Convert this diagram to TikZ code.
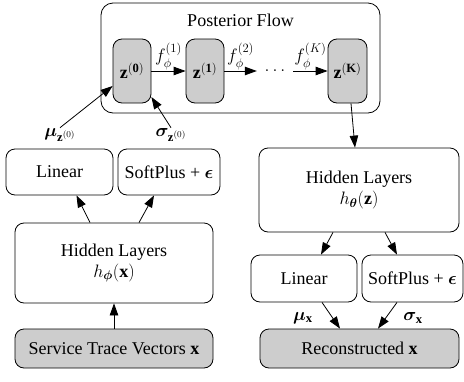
\documentclass[tikz,border=0pt]{standalone}
\usepackage{fix-cm}
\usepackage{amsmath}
\usepackage{bm}
\usepackage{fontspec}
\setmainfont{Liberation Serif}
\usetikzlibrary{arrows.meta}
\definecolor{zgray}{RGB}{205,205,205}
\tikzset{
  box/.style={draw, line width=0.8pt, rounded corners=9pt, align=center, inner sep=0pt,
    font=\fontsize{18}{21}\selectfont},
  grey/.style={box, fill=zgray},
  arr/.style={-{Triangle[length=12pt,width=8.5pt]}, line width=0.8pt},
  lbl/.style={inner sep=1pt, font=\fontsize{18}{21}\selectfont},
}
\begin{document}
\begin{tikzpicture}[x=1pt,y=-1pt]
\useasboundingbox (0,0) rectangle (464,381);
% posterior flow container
\node[box, rounded corners=12pt, minimum width=279pt, minimum height=110pt] (post) at (240.5,58) {};
\node[lbl] (ptitle) at (240.5,20) {Posterior Flow};
\node[grey, minimum width=38pt, minimum height=64pt] (z0) at (132,71) {$\mathbf{z^{(0)}}$};
\node[grey, minimum width=38pt, minimum height=64pt] (z1) at (205,71) {$\mathbf{z^{(1)}}$};
\node[grey, minimum width=39pt, minimum height=64pt] (zK) at (347.5,71) {$\mathbf{z^{(K)}}$};
\node[lbl, minimum width=36pt, inner sep=0pt] (dots) at (275,71) {$\ldots$};
\draw[arr] (z0) -- node[lbl, above] {$f_\phi^{(1)}$} (z1);
\draw[arr] (z1) -- node[lbl, above] {$f_\phi^{(2)}$} (dots);
\draw[arr] (dots) -- node[lbl, above] {$f_\phi^{(K)}$} (zK);
% encoder
\node[box, minimum width=107pt, minimum height=46pt] (linL) at (59.5,172) {Linear};
\node[box, minimum width=102pt, minimum height=46pt] (spL) at (169,172) {SoftPlus + $\bm{\epsilon}$};
\node[box, minimum width=198pt, minimum height=80pt] (hidL) at (114,263) {Hidden Layers\\$h_{\bm{\phi}}(\mathbf{x})$};
\node[grey, minimum width=198pt, minimum height=39pt] (svc) at (114,348.5) {Service Trace Vectors $\mathbf{x}$};
\node[lbl] (mu) at (60,135) {$\bm{\mu}_{\mathbf{z}^{(0)}}$};
\node[lbl] (sig) at (171,135) {$\bm{\sigma}_{\mathbf{z}^{(0)}}$};
\draw[arr] (svc.north) -- (hidL.south);
\draw[arr] ([xshift=-24pt]hidL.north) -- ([xshift=17pt]linL.south);
\draw[arr] ([xshift=25pt]hidL.north) -- ([xshift=-15pt]spL.south);
\draw[arr] (mu.north) -- ([yshift=-15pt]z0.west);
\draw[arr] (sig.north) -- ([yshift=-26pt]z0.east);
% decoder
\node[box, minimum width=200pt, minimum height=84pt] (hidR) at (359,190) {Hidden Layers\\$h_{\bm{\theta}}(\mathbf{z})$};
\node[box, minimum width=106pt, minimum height=47pt] (linR) at (304,278.5) {Linear};
\node[box, minimum width=101pt, minimum height=47pt] (spR) at (412.5,278.5) {SoftPlus + $\bm{\epsilon}$};
\node[grey, minimum width=199pt, minimum height=39pt] (rec) at (359.5,348.5) {Reconstructed $\mathbf{x}$};
\draw[arr] ([xshift=3.5pt]zK.south) -- ([xshift=-4pt]hidR.north);
\draw[arr] ([xshift=-26pt]hidR.south) -- ([xshift=17pt]linR.north);
\draw[arr] ([xshift=26pt]hidR.south) -- ([xshift=-15.5pt]spR.north);
\draw[arr] ([xshift=18pt]linR.south) -- ([xshift=-19.5pt]rec.north);
\draw[arr] ([xshift=-15.5pt]spR.south) -- ([xshift=18.5pt]rec.north);
\node[lbl] (mux) at (303,318) {$\bm{\mu}_{\mathbf{x}}$};
\node[lbl] (sigx) at (413,318) {$\bm{\sigma}_{\mathbf{x}}$};
\end{tikzpicture}
\end{document}
